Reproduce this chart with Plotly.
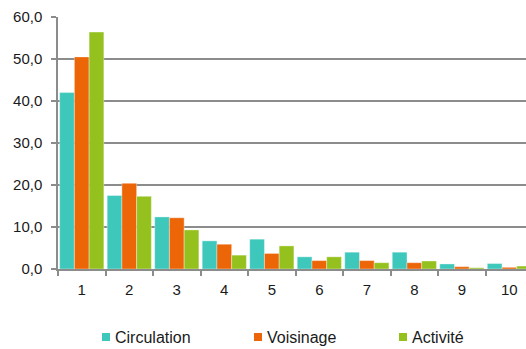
import plotly.graph_objects as go

categories = ["1", "2", "3", "4", "5", "6", "7", "8", "9", "10"]
circulation = [42.0, 17.5, 12.4, 6.7, 7.1, 2.9, 4.0, 4.0, 1.2, 1.3]
voisinage = [50.5, 20.4, 12.2, 5.9, 3.7, 2.0, 2.0, 1.5, 0.55, 0.4]
activite = [56.4, 17.3, 9.3, 3.3, 5.5, 2.9, 1.5, 1.9, 0.3, 0.7]

y_ticks = [0, 10, 20, 30, 40, 50, 60]
y_tick_text = [f"{v:.1f}".replace(".", ",") for v in y_ticks]

series = [
    ("Circulation", circulation, "#3EC8BB"),
    ("Voisinage", voisinage, "#EC6608"),
    ("Activité", activite, "#95C11F"),
]

W, H = 526, 349
ML, MR, MT, MB = 58, 0, 17, 80
plot_w = W - ML - MR
plot_h = H - MT - MB

def px_to_paper_x(px):
    return (px - ML) / plot_w

def px_to_paper_y(py):
    return (H - MB - py) / plot_h

fig = go.Figure()
for name, vals, color in series:
    fig.add_trace(go.Bar(
        x=categories, y=vals, name=name, showlegend=False,
        marker=dict(color=color, line=dict(color="rgba(255,255,255,0.6)", width=0.6)),
    ))

# Legend row under the chart: a small swatch followed by the series name
legend_left = [102, 254, 399]
legend_mid_y = 337
swatch = 8
for (name, _, color), left in zip(series, legend_left):
    fig.add_shape(
        type="rect", xref="paper", yref="paper",
        x0=px_to_paper_x(left), x1=px_to_paper_x(left + swatch),
        y0=px_to_paper_y(legend_mid_y + swatch / 2), y1=px_to_paper_y(legend_mid_y - swatch / 2),
        fillcolor=color, line=dict(width=0),
    )
    fig.add_annotation(
        text=name, xref="paper", yref="paper",
        x=px_to_paper_x(left + swatch + 3), y=px_to_paper_y(legend_mid_y),
        xanchor="left", yanchor="middle", showarrow=False,
        font=dict(size=16, color="#1a1a1a"),
    )

grid = "#8c8c8c"
fig.update_layout(
    width=W, height=H,
    margin=dict(l=ML, r=MR, t=MT, b=MB, autoexpand=False),
    plot_bgcolor="white", paper_bgcolor="white",
    barmode="group", bargap=0.07, bargroupgap=0,
    font=dict(family="Liberation Sans, Arial, sans-serif", size=15, color="#1a1a1a"),
    showlegend=False,
    xaxis=dict(
        type="category", range=[-0.5, 9.35],
        showgrid=False, showline=True, linecolor=grid, linewidth=1.5,
        ticks="outside", tickson="boundaries", ticklen=5, tickwidth=1.5, tickcolor=grid,
        ticklabelstandoff=6, tickfont=dict(size=15),
    ),
    yaxis=dict(
        range=[0, 60], tickvals=y_ticks, ticktext=y_tick_text,
        showgrid=True, gridcolor=grid, gridwidth=1.5,
        showline=True, linecolor=grid, linewidth=1.5,
        ticks="outside", ticklen=5, tickwidth=1.5, tickcolor=grid,
        ticklabelstandoff=6, zeroline=False, tickfont=dict(size=15),
    ),
)

fig.write_html("out.html")
